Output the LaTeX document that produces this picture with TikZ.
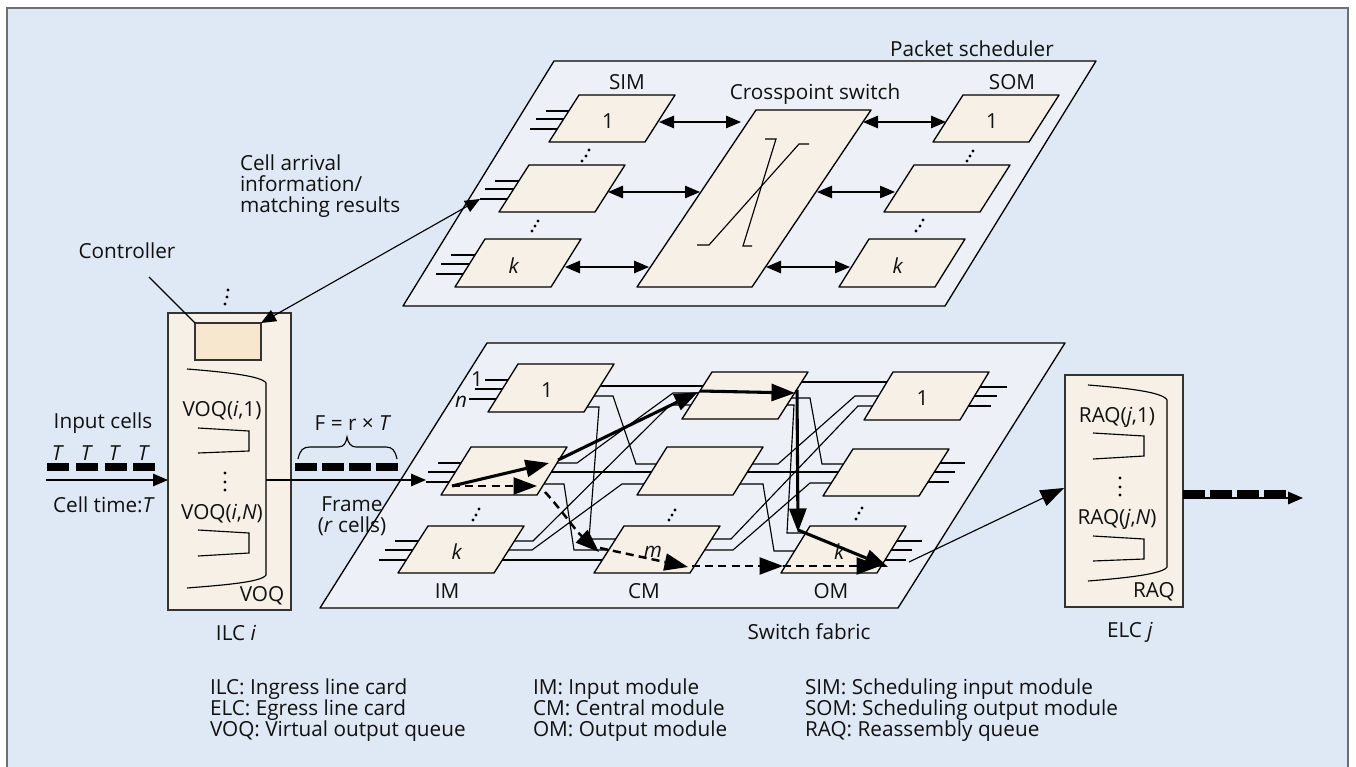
\documentclass[tikz,border=0pt]{standalone}
\usepackage{fontspec}
\setmainfont{Open Sans}
\usetikzlibrary{arrows.meta,calc}
\definecolor{bgc}{HTML}{DFE9F5}
\definecolor{platec}{HTML}{EDF1F7}
\definecolor{modc}{HTML}{F6F0E6}
\definecolor{ctrlc}{HTML}{F6E7CE}
\definecolor{framec}{HTML}{6D6F72}
\definecolor{inkc}{HTML}{111111}
\pgfdeclarelayer{bglayer}
\pgfdeclarelayer{wirelayer}
\pgfsetlayers{bglayer,wirelayer,main}
\newcommand{\mt}[1]{\raisebox{-1.4pt}[\height][\depth]{\kern-4.6pt #1}}
% parallelogram: [style]{name}{bottom-left x}{bottom y}{bottom width}{height}{skew}{text}
\newcommand{\pgm}[8][modshape]{%
  \draw[#1] (#3,#4) -- ++(#5,0) -- ++(#7,-#6) -- ++(-#5,0) -- cycle;
  \node[lab] (#2) at (#3+#5/2+#7/2,#4-#6/2) {#8};}
\newcommand{\tridots}[6]{\fill (#1,#2) circle[radius=1.7] (#3,#4) circle[radius=1.7] (#5,#6) circle[radius=1.7];}
% stubs: node, then y/x of three free wire ends
\newcommand{\stubs}[7]{%
  \coordinate (#1-a) at (#3,#2); \coordinate (#1-b) at (#5,#4); \coordinate (#1-c) at (#7,#6);
  \draw[wire] (#1-a) -- (#1.center |- #1-a);
  \draw[wire] (#1-b) -- (#1.center |- #1-b);
  \draw[wire] (#1-c) -- (#1.center |- #1-c);}
\tikzset{
  lab/.style={inner sep=0,outer sep=0,text=inkc,font=\fontsize{11.8}{12}\selectfont},
  plateshape/.style={draw=black,fill=platec,line width=.75pt,line join=round},
  modshape/.style={draw=black,fill=modc,line width=.75pt,line join=round},
  card/.style={draw=black!80,fill=modc,line width=.85pt,inner sep=0,outer sep=0},
  cell/.style={fill=black,inner sep=0,outer sep=0,minimum width=.44cm,minimum height=.16cm},
  wire/.style={line width=.65pt,draw=black},
  thin/.style={line width=.65pt,draw=black},
  tipS/.style={-{Triangle[length=.3cm,width=.25cm]}},
  tipB/.style={-{Triangle[length=.47cm,width=.34cm]}},
  bia/.style={thin,{Triangle[length=.3cm,width=.25cm]}-{Triangle[length=.3cm,width=.25cm]}},
  heavy/.style={line width=1.75pt,draw=black,tipB},
  dashy/.style={line width=1.4pt,draw=black,dash pattern=on 4.6pt off 2.9pt,tipB},
}
\begin{document}
\begin{tikzpicture}[x=0.02cm,y=-0.02cm]
\useasboundingbox (0,0) rectangle (1356,767);
\begin{pgfonlayer}{bglayer}
  \fill[white] (0,0) rectangle (1356,767);
  \fill[bgc] (7,8) rectangle (1348,767);
  \draw[framec,line width=1pt] (7,767) -- (7,8) -- (1348,8) -- (1348,767);
  \pgm[plateshape]{sched}{403}{306}{542}{245}{151}{}
  \pgm[plateshape]{fabric}{320}{608}{578}{265}{167}{}
\end{pgfonlayer}

% packet scheduler modules
\pgm{sim1}{549}{142}{96}{47}{30}{\mt{1}}
\pgm{simm}{499}{212}{96}{47}{30}{}
\pgm{simk}{455}{287}{96}{48}{30}{\mt{\textit{k}}}
\pgm{som1}{933}{142}{96}{47}{30}{\mt{1}}
\pgm{somm}{884}{212}{96}{47}{30}{}
\pgm{somk}{839}{287}{96}{48}{30}{\mt{\textit{k}}}
\pgm{xp}{637}{287}{115}{177}{119}{}
% switch fabric modules
\pgm{im1}{488}{412}{96}{48}{30}{\mt{1}}
\pgm{imm}{441}{495}{96}{48}{30}{}
\pgm{imk}{398}{573}{96}{47}{30}{\mt{\textit{k}}}
\pgm{cm1}{682}{419}{96}{47}{30}{}
\pgm{cmm}{637}{495}{96}{48}{30}{}
\pgm{cmk}{594}{573}{96}{47}{30}{\mt{\textit{m}}}
\pgm{om1}{864}{420}{96}{48}{29}{\mt{1}}
\pgm{omm}{823}{496}{96}{47}{30}{}
\pgm{omk}{781}{573}{96}{47}{29}{\mt{\textit{k}}}

% line cards
\node[card,minimum width=2.46cm,minimum height=5.94cm] (ilc) at (229.5,461.5) {};
\node[card,fill=ctrlc,minimum width=1.32cm,minimum height=.74cm] (ctrl) at (228,341.5) {};
\node[card,minimum width=2.36cm,minimum height=4.64cm] (elc) at (1124,491) {};

\begin{pgfonlayer}{wirelayer}
  \stubs{sim1}{111}{546}{119}{536}{129}{530}
  \stubs{simm}{181}{495}{189}{485}{199}{480}
  \stubs{simk}{255}{451}{264}{441}{274}{436}
  \stubs{im1}{380}{485}{389}{475}{399}{469}
  \stubs{imm}{463}{438}{472}{428}{482}{426}
  \stubs{imk}{541}{395}{550}{385}{560}{379}
  \stubs{om1}{387}{1007}{396}{997}{406}{991}
  \stubs{omm}{463}{965}{472}{955}{482}{949}
  \stubs{omk}{541}{922}{550}{912}{560}{906}
  \draw[wire] (im1.center |- 0,386) -- (cm1.center |- 0,386);
  \draw[wire] (im1.center |- 0,396) -- (613,396) -- (636,464) -- (cmm.center |- 0,464);
  \draw[wire] (im1.center |- 0,407) -- (599,407) -- (589,539) -- (cmk.center |- 0,539);
  \draw[wire] (imm.center |- 0,463) -- (577,463) -- (673,393) -- (cm1.center |- 0,393);
  \draw[wire] (imm.center |- 0,472) -- (cmm.center |- 0,472);
  \draw[wire] (imm.center |- 0,484) -- (564,484) -- (574,550) -- (cmk.center |- 0,550);
  \draw[wire] (imk.center |- 0,541) -- (533,541) -- (670,405) -- (cm1.center |- 0,405);
  \draw[wire] (imk.center |- 0,550) -- (532,550) -- (622,484) -- (cmm.center |- 0,484);
  \draw[wire] (imk.center |- 0,560) -- (cmk.center |- 0,560);
  \draw[wire] (cm1.center |- 0,382) -- (om1.center |- 0,382);
  \draw[wire] (cm1.center |- 0,398) -- (810,398) -- (822,464) -- (omm.center |- 0,464);
  \draw[wire] (cm1.center |- 0,405) -- (794,405) -- (787,533) -- (omk.center |- 0,533);
  \draw[wire] (cmm.center |- 0,464) -- (778,464) -- (855,396) -- (om1.center |- 0,396);
  \draw[wire] (cmm.center |- 0,472) -- (omm.center |- 0,472);
  \draw[wire] (cmm.center |- 0,484) -- (763,484) -- (774,551) -- (omk.center |- 0,551);
  \draw[wire] (cmk.center |- 0,539) -- (731,539) -- (858,406) -- (om1.center |- 0,406);
  \draw[wire] (cmk.center |- 0,550) -- (733,550) -- (810,483) -- (omm.center |- 0,483);
\end{pgfonlayer}

% crosspoint X
\draw[thin] (765,139) -- (776,139) -- (743,246) -- (752,246);
\draw[thin] (697,245) -- (709,245) -- (799,144) -- (809,144);

% scheduler bidirectional arrows
\coordinate (a1l) at (659,122); \coordinate (a1r) at (741,122);
\coordinate (a2l) at (608,192); \coordinate (a2r) at (700,192);
\coordinate (a3l) at (565,267); \coordinate (a3r) at (649,267);
\coordinate (b1l) at (863,122); \coordinate (b1r) at (946,122);
\coordinate (b2l) at (817,192); \coordinate (b2r) at (895,192);
\coordinate (b3l) at (766,267); \coordinate (b3r) at (850,267);
\draw[bia] (a1l) -- (a1r);
\draw[bia] (a2l) -- (a2r);
\draw[bia] (a3l) -- (a3r);
\draw[bia] (b1l) -- (b1r);
\draw[bia] (b2l) -- (b2r);
\draw[bia] (b3l) -- (b3r);

% controller links
\coordinate (leader) at (149,277);
\draw[thin] (leader) -- (ctrl.north west);
\draw[bia] (simm-c) -- (ctrl.north east);

% queues
\draw[thin] (187,369) .. controls (225,372) and (262,376) .. (266,383) -- (266,575) .. controls (262,582) and (225,585) .. (187,588);
\draw[thin] (198,428) -- (249,431) -- (249,451) -- (198,453);
\draw[thin] (198,530) -- (249,533) -- (249,553) -- (198,556);
\draw[thin] (1088,385) .. controls (1126,388) and (1163,392) .. (1167,400) -- (1167,567) .. controls (1163,574) and (1126,578) .. (1088,581);
\draw[thin] (1093,433) -- (1144,436) -- (1144,456) -- (1093,459);
\draw[thin] (1093,536) -- (1144,539) -- (1144,559) -- (1093,561);
\tridots{225}{473}{225}{482}{225}{490}
\tridots{1120}{478}{1120}{487}{1120}{495}
\tridots{228}{290}{227}{297}{225}{304}
\tridots{589}{150}{586}{156}{582}{161}
\tridots{538}{221}{535}{226}{532}{231}
\tridots{973}{151}{970}{156}{967}{161}
\tridots{923}{220}{920}{226}{916}{231}
\tridots{479}{509}{476}{515}{473}{520}
\tridots{675}{510}{672}{515}{669}{520}
\tridots{862}{508}{859}{513}{856}{519}

% cells
\foreach \n/\x in {1/58,2/87,3/116,4/144} \node[cell] (inc\n) at (\x,467) {};
\foreach \n/\x in {1/306,2/333,3/360,4/387} \node[cell] (frc\n) at (\x,467) {};
\foreach \n/\x in {1/1194,2/1221,3/1248,4/1275} \node[cell] (outc\n) at (\x,494) {};

% input / output arrows
\coordinate (cellin) at (46,480);
\draw[thin,tipS] (cellin) -- (ilc.west |- cellin);
\coordinate (voqout) at (266,480);
\coordinate (fabin) at (426,480);
\draw[thin,tipS] (voqout) -- (fabin);
\coordinate (omout) at (909,562);
\coordinate (elcin) at (1064,488);
\draw[thin,tipB] (omout) -- (elcin);
\coordinate (cellout) at (1303,498);
\draw[thin,line width=.9pt,tipS] (elc.east |- cellout) -- (cellout);

% brace
\draw[thin] (298,459) .. controls (300,450) and (303,447) .. (310,447) -- (338,447) .. controls (344,447) and (346,443) .. (347,437) .. controls (348,443) and (351,447) .. (356,447) -- (386,447) .. controls (392,447) and (395,450) .. (397,459);

% scheduled paths
\coordinate (p1) at (452,486); \coordinate (p2) at (549,463);
\coordinate (p3) at (558,460); \coordinate (p4) at (698,392);
\coordinate (p5) at (700,391); \coordinate (p6) at (795,393);
\coordinate (p7) at (797,390); \coordinate (p8) at (798,532);
\coordinate (p9) at (798,530); \coordinate (p10) at (888,567);
\draw[heavy] (p1) -- (p2);
\draw[heavy] (p3) -- (p4);
\draw[heavy] (p5) -- (p6);
\draw[heavy] (p7) -- (p8);
\draw[heavy] (p9) -- (p10);
\coordinate (d1) at (537,486);
\coordinate (d2) at (545,492); \coordinate (d3) at (599,552);
\coordinate (d4) at (600,548); \coordinate (d5) at (688,567);
\coordinate (d6) at (692,566); \coordinate (d7) at (783,566);
\coordinate (d8) at (880,566);
\draw[dashy] (p1) -- (d1);
\draw[dashy] (d2) .. controls (560,508) and (575,530) .. (d3);
\draw[dashy] (d4) -- (d5);
\draw[dashy] (d6) -- (d7);
\draw[dashy] (d7) -- (d8);

% labels
\node[lab] (tsim) at (627,82) {SIM};
\node[lab] (txp) at (815,94) {Crosspoint switch};
\node[lab] (tsom) at (1012,82) {SOM};
\node[lab] (tps) at (972,49) {Packet scheduler};
\node[lab,anchor=west,align=left] (tcell) at (240,186) {Cell arrival\\information/\\matching results};
\node[lab] (tctrl) at (127,251) {Controller};
\node[lab] (tone) at (477,379) {1};
\node[lab] (tn) at (461,402) {\textit{n}};
\node[lab] (tim) at (447,591) {IM};
\node[lab] (tcm) at (644,591) {CM};
\node[lab] (tom) at (831,591) {OM};
\node[lab] (tfab) at (809,632) {Switch fabric};
\node[lab] (telc) at (1130,632) {ELC \textit{j}};
\node[lab] (tilc) at (236,633) {ILC \textit{i}};
\node[lab] (tvoq) at (262,596) {VOQ};
\node[lab] (traq) at (1154,592) {RAQ};
\node[lab] (tv1) at (222,411) {VOQ(\textit{i},1)};
\node[lab] (tvn) at (222,514) {VOQ(\textit{i},\textit{N})};
\node[lab] (tr1) at (1117,417) {RAQ(\textit{j},1)};
\node[lab] (trn) at (1117,519) {RAQ(\textit{j},\textit{N})};
\node[lab] (tin) at (103,423) {Input cells};
\foreach \n/\x in {1/58,2/87,3/115,4/144} \node[lab] (tt\n) at (\x,453) {\textit{T}};
\node[lab] (ttime) at (104,505) {Cell time:\textit{T}};
\node[lab] (tf) at (353,423) {F = r × \textit{T}};
\node[lab,align=center] (tfr) at (352,516) {Frame\\(\textit{r} cells)};
\node[lab,anchor=west,align=left] (leg1) at (210,710) {ILC: Ingress line card\\ELC: Egress line card\\VOQ: Virtual output queue};
\node[lab,anchor=west,align=left] (leg2) at (533,710) {IM: Input module\\CM: Central module\\OM: Output module};
\node[lab,anchor=west,align=left] (leg3) at (805,710) {SIM: Scheduling input module\\SOM: Scheduling output module\\RAQ: Reassembly queue};
\end{tikzpicture}
\end{document}
